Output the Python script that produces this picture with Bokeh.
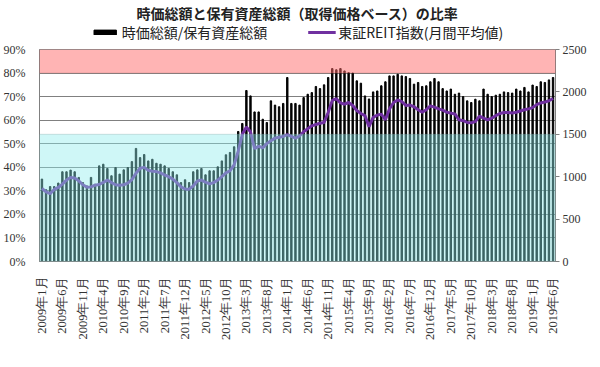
import math
from bokeh.plotting import figure
from bokeh.layouts import column
from bokeh.models import (Range1d, LinearAxis, FixedTicker, BoxAnnotation, Legend,
                          LegendItem, ColumnDataSource, PrintfTickFormatter)
from bokeh.embed import file_html
from bokeh.resources import INLINE

# ---- data -------------------------------------------------------------
start_year = 2009
n_months = 126
months = [f"{start_year + k // 12}年{k % 12 + 1}月" for k in range(n_months)]

# 時価総額/保有資産総額 (%)
ratio = [35.0, 30.5, 31.8, 31.8, 33.3, 38.1, 38.1, 38.8, 38.1, 35.7,
         33.5, 32.1, 35.7, 32.8, 40.6, 41.3, 39.5, 36.4, 39.9, 37.1,
         38.9, 39.9, 42.4, 48.0, 44.1, 45.4, 42.7, 43.4, 41.7, 41.3,
         40.6, 39.5, 38.1, 36.8, 33.5, 34.7, 33.5, 38.1, 38.9, 39.5,
         36.8, 38.5, 38.5, 40.2, 42.7, 45.3, 46.3, 48.7, 55.2, 58.6,
         72.6, 70.3, 63.5, 63.5, 60.4, 59.0, 68.2, 66.4, 65.7, 67.1,
         78.1, 67.1, 67.1, 66.4, 69.6, 71.0, 71.7, 74.3, 73.4, 75.0,
         78.1, 81.9, 81.4, 81.9, 80.9, 80.2, 80.0, 76.7, 75.7, 70.3,
         69.0, 72.0, 72.4, 74.6, 76.3, 78.8, 78.8, 79.5, 78.8, 78.5,
         77.7, 75.3, 76.0, 74.3, 74.6, 76.3, 77.7, 76.3, 73.4, 72.4,
         73.2, 71.0, 71.5, 70.0, 68.2, 67.5, 68.9, 68.2, 73.2, 71.0,
         70.0, 70.6, 71.0, 72.0, 71.7, 71.5, 73.2, 72.4, 73.9, 72.0,
         74.9, 74.3, 76.3, 76.0, 77.1, 78.1]

# 東証REIT指数(月間平均値)
reit = [861, 820, 800, 850, 873, 912, 960, 990, 985, 951,
        905, 875, 880, 900, 908, 932, 960, 930, 905, 900,
        905, 924, 965, 1040, 1100, 1110, 1075, 1065, 1060, 1045,
        1020, 1000, 971, 930, 880, 855, 853, 890, 950, 960,
        935, 915, 930, 960, 1000, 1045, 1070, 1140, 1300, 1500,
        1585, 1530, 1330, 1360, 1340, 1390, 1425, 1455, 1465, 1475,
        1495, 1475, 1455, 1480, 1530, 1565, 1600, 1615, 1630, 1640,
        1757, 1900, 1920, 1870, 1855, 1875, 1840, 1780, 1745, 1720,
        1590, 1700, 1726, 1737, 1671, 1800, 1875, 1905, 1885, 1840,
        1845, 1825, 1790, 1760, 1790, 1836, 1820, 1800, 1785, 1760,
        1750, 1740, 1671, 1660, 1640, 1635, 1650, 1715, 1690, 1670,
        1690, 1720, 1745, 1757, 1757, 1750, 1760, 1775, 1790, 1800,
        1815, 1850, 1870, 1880, 1895, 1922]

series_names = ["時価総額/保有資産総額", "東証REIT指数(月間平均値)"]
title_text = "時価総額と保有資産総額（取得価格ベース）の比率"

left_ticks = [0, 10, 20, 30, 40, 50, 60, 70, 80, 90]
right_ticks = [0, 500, 1000, 1500, 2000, 2500]
label_step = 5
red_band = (80, 90)        # % (left axis)
cyan_band = (0, 1500)      # index (right axis)

# ---- styles -----------------------------------------------------------
serif = "Liberation Serif"
cjk = "Noto Sans CJK JP"
purple = "#7030A0"
W = 592
bar_w = 0.34

x = list(range(n_months))
src = ColumnDataSource(dict(x=x, ratio=ratio, reit=reit, month=months))

# ---- header (title + legend); its ranges keep the data out of view ----
head = figure(width=W, height=41, output_backend="svg", toolbar_location=None,
              x_axis_type=None, y_axis_type=None, min_border_left=0,
              min_border_right=0, min_border_top=5, min_border_bottom=0,
              x_range=Range1d(1000, 1001), y_range=Range1d(1000, 1001))
head.outline_line_color = None
head.xgrid.grid_line_color = None
head.ygrid.grid_line_color = None
head.title.text = title_text
head.title.align = "center"
head.title.text_font = cjk
head.title.text_font_size = "14px"
head.title.text_font_style = "bold"
head.title.text_color = "#222222"
head.title.standoff = 0
head.title.offset = 0
hb = head.vbar(x="x", top="ratio", width=bar_w, source=src, color="black")
hl = head.line(x="x", y="reit", source=src, color=purple, line_width=3)
legend = Legend(items=[LegendItem(label=series_names[0], renderers=[hb]),
                       LegendItem(label=series_names[1], renderers=[hl])],
                orientation="horizontal", location="center",
                border_line_color=None, background_fill_alpha=0,
                label_text_font=cjk, label_text_font_size="14px",
                label_text_color="#222222",
                glyph_width=28, glyph_height=6, spacing=40, margin=0, padding=0,
                label_standoff=3, label_height=15)
head.add_layout(legend)

# ---- main chart -------------------------------------------------------
p = figure(width=W, height=318, x_range=Range1d(-0.6, n_months - 0.4),
           y_range=Range1d(0, 90), output_backend="svg", toolbar_location=None,
           min_border_left=30, min_border_right=37, min_border_top=8,
           min_border_bottom=98)
p.extra_y_ranges = {"r": Range1d(0, 2500)}
p.outline_line_color = "#909090"
p.background_fill_color = "white"
p.border_fill_color = "white"

bars = p.vbar(x="x", top="ratio", width=bar_w, source=src, color="black")
line = p.line(x="x", y="reit", source=src, y_range_name="r",
              color=purple, line_width=3)

# bands drawn over the data
p.add_layout(BoxAnnotation(bottom=cyan_band[0], top=cyan_band[1], y_range_name="r",
                           fill_color=(140, 235, 235), fill_alpha=0.42,
                           line_color="#7a9a9a", line_width=1))
p.add_layout(BoxAnnotation(bottom=red_band[0], top=red_band[1],
                           fill_color=(255, 106, 106), fill_alpha=0.5,
                           line_color="#b06a6a", line_width=1))

# axes
p.yaxis.ticker = FixedTicker(ticks=left_ticks)
p.yaxis.formatter = PrintfTickFormatter(format="%d%%")
p.yaxis.major_label_text_font = serif
p.yaxis.major_label_text_font_size = "12px"
p.yaxis.major_label_text_color = "#333333"
p.yaxis.major_tick_line_color = None
p.yaxis.minor_tick_line_color = None
p.yaxis.axis_line_color = "#808080"
p.yaxis.major_label_standoff = 8

ra = LinearAxis(y_range_name="r", ticker=FixedTicker(ticks=right_ticks))
ra.major_label_text_font = serif
ra.major_label_text_font_size = "12px"
ra.major_label_text_color = "#333333"
ra.major_tick_line_color = "#808080"
ra.major_tick_out = 4
ra.major_tick_in = 0
ra.minor_tick_line_color = None
ra.axis_line_color = "#808080"
ra.major_label_standoff = 3
p.add_layout(ra, "right")

tick_pos = list(range(0, n_months, label_step))
p.xaxis.ticker = FixedTicker(ticks=tick_pos)
p.xaxis.major_label_overrides = {i: months[i] for i in tick_pos}
p.xaxis.major_label_orientation = math.pi / 2
p.xaxis.major_label_text_font = serif
p.xaxis.major_label_text_font_size = "12.5px"
p.xaxis.major_label_text_color = "#333333"
p.xaxis.major_tick_line_color = None
p.xaxis.minor_tick_line_color = None
p.xaxis.axis_line_color = "#808080"
p.xaxis.major_label_standoff = 9

p.xgrid.grid_line_color = None
p.ygrid.ticker = FixedTicker(ticks=left_ticks)
p.ygrid.grid_line_color = "#808080"
p.ygrid.grid_line_width = 1

layout = column(head, p, spacing=0)
open("out.html", "w").write(file_html(layout, INLINE))
